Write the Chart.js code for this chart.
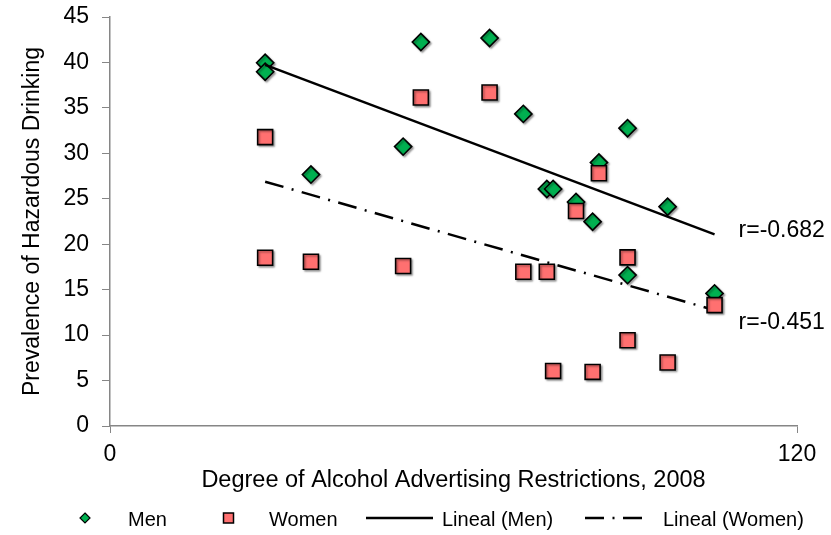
<!DOCTYPE html>
<html><head><meta charset="utf-8">
<script src="https://cdn.jsdelivr.net/npm/chart.js@4.4.1/dist/chart.umd.min.js"></script>
<style>html,body{margin:0;padding:0;background:#fff}#wrap{width:831px;height:535px;position:relative}</style>
</head><body><div id="wrap"><canvas id="c" width="831" height="535"></canvas></div>
<script>
// ---- data ----
const restrictions     = [27.1, 27.1, 35.1, 51.2, 54.3, 66.3, 72.2, 76.3, 77.4, 81.4, 84.3, 85.4, 90.4, 90.4, 97.4, 105.6];
const menPrevalence    = [39.96, 38.97, 27.66, 30.74, 42.24, 42.68, 34.34, 26.08, 26.08, 24.65, 22.48, 28.98, 32.77, 16.6, 24.13, 14.59];
const womenPrevalence  = [31.78, 18.51, 18.07, 17.6, 36.14, 36.69, 16.97, 16.97, 6.06, 23.66, 5.95, 27.81, 18.55, 9.44, 6.99, 13.3];
const trendX           = [27.1, 105.6];
const menTrend         = [39.74, 21.09];
const womenTrend       = [26.88, 12.75];
const rTexts           = ['r=-0.682', 'r=-0.451'];
const seriesNames      = ['Men', 'Women', 'Lineal (Men)', 'Lineal (Women)'];
const xTitle = 'Degree of Alcohol Advertising Restrictions, 2008';
const yTitle = 'Prevalence of Hazardous Drinking';
const xTicks = [0, 120];
const yMax = 45, yStep = 5;

const FONT = "'Liberation Sans', Arial, sans-serif";
const GREEN = '#00B050', SALMON = '#FF7070', AXIS = '#868686';
const DASHDOT = [19, 8.5, 2, 8.5];

const toPts = (xs, ys) => xs.map((x, i) => ({x: x, y: ys[i]}));

const shadowPlugin = {
  id: 'shadow',
  beforeDatasetDraw(chart, args) {
    const ds = chart.data.datasets[args.index];
    if (ds.pointRadius > 0) {
      const ctx = chart.ctx;
      ctx.save();
      ctx.shadowColor = 'rgba(0,0,0,0.35)';
      ctx.shadowOffsetX = 1.5; ctx.shadowOffsetY = 1.5; ctx.shadowBlur = 2;
    }
  },
  afterDatasetDraw(chart, args) {
    const ds = chart.data.datasets[args.index];
    if (ds.pointRadius > 0) chart.ctx.restore();
  }
};

const annotPlugin = {
  id: 'annot',
  afterDraw(chart) {
    const ctx = chart.ctx, xs = chart.scales.x, ys = chart.scales.y;
    ctx.save();
    ctx.fillStyle = '#000';
    ctx.font = '23px ' + FONT;
    ctx.textBaseline = 'middle';
    ctx.textAlign = 'left';
    // r labels placed beside each trend line end
    const ends = [menTrend[1], womenTrend[1]];
    const dy = [-4, 13];
    rTexts.forEach((t, i) => {
      const px = xs.getPixelForValue(trendX[1]) + 24;
      const py = ys.getPixelForValue(ends[i]) + dy[i];
      ctx.fillText(t, px, py);
    });
    // legend
    const ly = 518;
    ctx.font = '20px ' + FONT;
    ctx.lineWidth = 1.2; ctx.strokeStyle = '#000';
    ctx.beginPath();
    ctx.moveTo(85, ly - 5); ctx.lineTo(90, ly); ctx.lineTo(85, ly + 5); ctx.lineTo(80, ly); ctx.closePath();
    ctx.fillStyle = GREEN; ctx.fill(); ctx.stroke();
    ctx.beginPath(); ctx.rect(223.5, ly - 5, 10, 10);
    ctx.fillStyle = SALMON; ctx.fill(); ctx.lineWidth = 1.5; ctx.stroke();
    ctx.lineWidth = 2.5;
    ctx.beginPath(); ctx.moveTo(366, ly); ctx.lineTo(433, ly); ctx.stroke();
    ctx.setLineDash(DASHDOT);
    ctx.beginPath(); ctx.moveTo(585, ly); ctx.lineTo(646, ly); ctx.stroke();
    ctx.setLineDash([]);
    ctx.fillStyle = '#000';
    ctx.fillText(seriesNames[0], 128, ly + 2);
    ctx.fillText(seriesNames[1], 269, ly + 2);
    ctx.fillText(seriesNames[2], 442, ly + 2);
    ctx.fillText(seriesNames[3], 663, ly + 2);
    ctx.restore();
  }
};

new Chart(document.getElementById('c'), {
  type: 'scatter',
  data: {
    datasets: [
      { label: seriesNames[1], data: toPts(restrictions, womenPrevalence), order: 0,
        pointStyle: 'rect', pointRadius: 10.6, pointHoverRadius: 10.6,
        backgroundColor: SALMON, borderColor: '#000', borderWidth: 1.6 },
      { label: seriesNames[2], data: toPts(trendX, menTrend), order: 1, showLine: true,
        pointRadius: 0, borderColor: '#000', borderWidth: 2.5, backgroundColor: '#000' },
      { label: seriesNames[3], data: toPts(trendX, womenTrend), order: 1, showLine: true,
        pointRadius: 0, borderColor: '#000', borderWidth: 2.5, borderDash: DASHDOT, backgroundColor: '#000' },
      { label: seriesNames[0], data: toPts(restrictions, menPrevalence), order: 2,
        pointStyle: 'rectRot', pointRadius: 8.6, pointHoverRadius: 8.6,
        backgroundColor: GREEN, borderColor: '#000', borderWidth: 1.6 }
    ]
  },
  options: {
    responsive: false, animation: false, devicePixelRatio: 1,
    layout: { padding: { top: 17, right: 34, bottom: 0, left: 0 } },
    plugins: { legend: { display: false }, tooltip: { enabled: false } },
    scales: {
      x: {
        type: 'linear', min: xTicks[0], max: xTicks[1],
        afterFit(s) { s.height = 109; s.paddingLeft = 0; s.paddingRight = 0; },
        afterBuildTicks(s) { s.ticks = xTicks.map(v => ({value: v})); },
        grid: { display: true, drawOnChartArea: false, drawTicks: true, tickLength: 7, color: AXIS, lineWidth: 1 },
        border: { display: true, color: AXIS, width: 1.5 },
        ticks: { color: '#000', font: { family: FONT, size: 23 }, padding: 8, maxRotation: 0 },
        title: { display: true, text: xTitle, color: '#000', font: { family: FONT, size: 23.5 }, padding: { top: 0, bottom: 40 } }
      },
      y: {
        type: 'linear', min: 0, max: yMax,
        afterFit(s) { s.width = 110; s.paddingTop = 0; s.paddingBottom = 0; },
        grid: { display: true, drawOnChartArea: false, drawTicks: true, tickLength: 8, color: AXIS, lineWidth: 1 },
        border: { display: true, color: AXIS, width: 1.5 },
        ticks: { stepSize: yStep, color: '#000', font: { family: FONT, size: 23 }, padding: 13 },
        title: { display: true, text: yTitle, color: '#000', font: { family: FONT, size: 23 }, padding: { top: 19, bottom: 0 } }
      }
    }
  },
  plugins: [shadowPlugin, annotPlugin]
});
</script>
</body></html>
